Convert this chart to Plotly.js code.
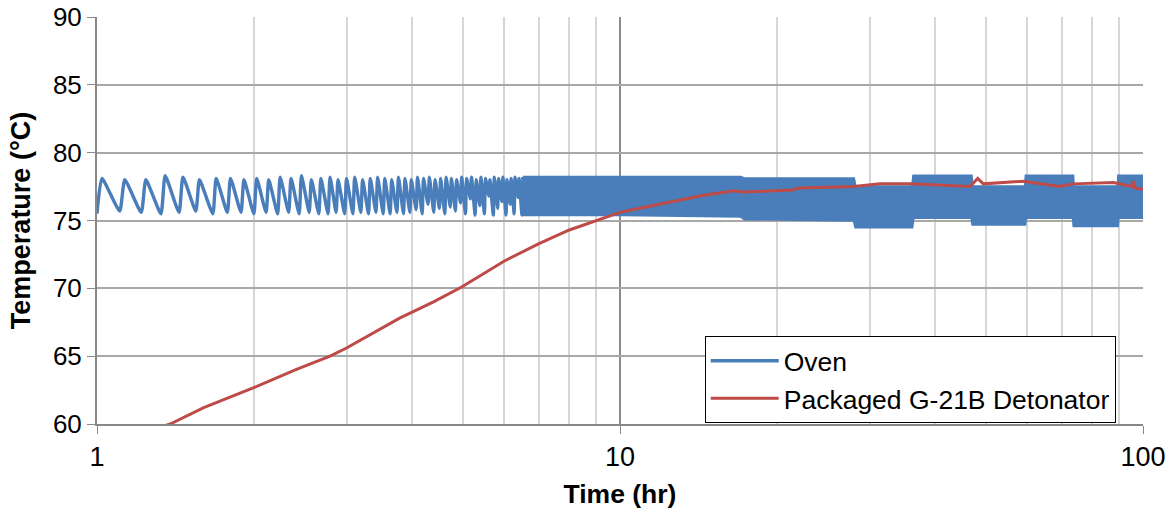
<!DOCTYPE html>
<html>
<head>
<meta charset="utf-8">
<script src="https://cdn.plot.ly/plotly-3.0.1.min.js"></script>
<style>
  html, body { margin: 0; padding: 0; background: #fff; }
  #chart { width: 1172px; height: 510px; }
</style>
</head>
<body>
<div id="chart"></div>
<script>
// ---- Data ----
// Oven: individual cycles in the sparse region (peaks and troughs)
const ovenStartT = 1.0;
const ovenStartV = 75.5;
const ovenPeakT = [1.022, 1.13, 1.24, 1.35, 1.46, 1.57, 1.69, 1.80, 1.91, 2.02, 2.13, 2.24, 2.35, 2.46, 2.57, 2.68, 2.79, 2.89, 3.00, 3.11, 3.22, 3.33, 3.44, 3.55, 3.66, 3.77, 3.88, 3.99, 4.10, 4.21, 4.32, 4.43, 4.54, 4.65, 4.76, 4.87, 4.98, 5.09, 5.20, 5.31, 5.42, 5.53, 5.64, 5.75, 5.86, 5.97, 6.08, 6.19, 6.30, 6.41, 6.52];
const ovenPeakV = [78.1, 78.0, 78.0, 78.3, 78.2, 78.0, 78.1, 78.1, 78.0, 78.1, 78.0, 78.2, 78.1, 78.3, 78.0, 78.1, 78.2, 78.0, 78.1, 78.2, 78.0, 78.1, 78.2, 78.1, 78.0, 78.2, 78.1, 78.0, 78.2, 78.1, 78.2, 78.0, 78.1, 78.2, 78.1, 78.0, 78.2, 78.1, 78.2, 78.0, 78.2, 78.1, 78.0, 78.2, 78.1, 78.2, 78.0, 78.1, 78.2, 78.1, 78.2];
const ovenTroughT = [1.105, 1.215, 1.325, 1.435, 1.545, 1.665, 1.775, 1.885, 1.995, 2.105, 2.215, 2.325, 2.435, 2.545, 2.655, 2.765, 2.865, 2.975, 3.085, 3.195, 3.305, 3.415, 3.525, 3.635, 3.745, 3.855, 3.965, 4.075, 4.185, 4.295, 4.405, 4.515, 4.625, 4.735, 4.845, 4.955, 5.065, 5.175, 5.285, 5.395, 5.505, 5.615, 5.725, 5.835, 5.945, 6.055, 6.165, 6.275, 6.385, 6.495];
const ovenTroughV = [75.7, 75.6, 75.5, 75.6, 75.7, 75.5, 75.6, 75.6, 75.5, 75.6, 75.5, 75.6, 75.5, 75.6, 75.5, 75.5, 75.6, 75.5, 75.5, 75.6, 75.5, 75.6, 75.5, 75.5, 75.6, 75.5, 75.6, 75.8, 75.5, 76.2, 75.6, 75.9, 75.5, 76.0, 75.7, 76.3, 75.5, 76.6, 75.4, 76.1, 75.5, 76.8, 75.4, 75.9, 76.4, 75.4, 76.2, 75.5, 76.7, 75.4];

// Oven: dense region, upper and lower envelope of the oscillation band
const bandT     = [6.52, 10.0, 17.0, 17.3, 28.0, 28.2, 36.2, 36.4, 47.0, 47.2, 59.5, 59.7, 73.5, 73.7, 89.5, 89.7, 100];
const bandUpper = [78.2, 78.2, 78.2, 78.1, 78.1, 77.5, 77.5, 78.3, 78.3, 77.5, 77.5, 78.3, 78.3, 77.5, 77.5, 78.3, 78.3];
const bandLower = [75.4, 75.4, 75.3, 75.1, 75.0, 74.5, 74.5, 75.2, 75.2, 74.7, 74.7, 75.2, 75.2, 74.6, 74.6, 75.2, 75.2];

// Packaged G-21B Detonator
const detT = [1.33, 1.38, 1.6, 2.0, 2.4, 2.79, 3.0, 3.4, 3.79, 4.4, 4.98, 6.0, 7.0, 8.0, 9.0, 10.0, 10.45, 12.3, 14.2, 16.5, 17.2, 21.4, 22.0, 28.0, 31.4, 35.9, 46.7, 48.3, 49.5, 59.0, 69.4, 73.5, 87.7, 95.2, 95.7, 96.5, 100];
const detV = [59.8, 60.0, 61.2, 62.7, 64.0, 65.0, 65.6, 66.8, 67.8, 69.0, 70.1, 72.0, 73.3, 74.3, 75.0, 75.6, 75.75, 76.3, 76.8, 77.2, 77.1, 77.25, 77.4, 77.5, 77.7, 77.7, 77.5, 78.1, 77.7, 77.9, 77.5, 77.7, 77.8, 77.5, 77.9, 77.4, 77.3];

const xTickVals = [1, 10, 100];
const xTickText = ['1', '10', '100'];
const xMinorVals = [2, 3, 4, 5, 6, 7, 8, 9, 20, 30, 40, 50, 60, 70, 80, 90];

// ---- Build the oven cycle polyline from the read peaks/troughs ----
const ovenX = [ovenStartT];
const ovenY = [ovenStartV];
for (let i = 0; i < ovenPeakT.length; i++) {
  ovenX.push(ovenPeakT[i]); ovenY.push(ovenPeakV[i]);
  if (i < ovenTroughT.length) { ovenX.push(ovenTroughT[i]); ovenY.push(ovenTroughV[i]); }
}

const BLUE = '#4a7ebb';
const RED = '#be4b48';
const FONT = 'Liberation Sans, Arial, sans-serif';

const traces = [
  { x: ovenX, y: ovenY, type: 'scatter', mode: 'lines', name: 'Oven',
    line: { color: BLUE, width: 3.4, shape: 'spline', smoothing: 0.5 }, hoverinfo: 'skip' },
  { x: bandT, y: bandLower, type: 'scatter', mode: 'lines', showlegend: false,
    line: { color: BLUE, width: 2.5 }, hoverinfo: 'skip' },
  { x: bandT, y: bandUpper, type: 'scatter', mode: 'lines', showlegend: false,
    fill: 'tonexty', fillcolor: BLUE,
    line: { color: BLUE, width: 2.5 }, hoverinfo: 'skip' },
  { x: detT, y: detV, type: 'scatter', mode: 'lines', name: 'Packaged G-21B Detonator',
    line: { color: RED, width: 3 }, hoverinfo: 'skip' }
];

const layout = {
  width: 1172, height: 510,
  margin: { l: 97, r: 29, t: 17, b: 86 },
  paper_bgcolor: '#fff', plot_bgcolor: '#fff',
  font: { family: FONT, color: '#000', size: 26 },
  showlegend: true,
  legend: {
    x: 0.581, y: 0.216, xanchor: 'left', yanchor: 'top',
    bgcolor: '#fff', bordercolor: '#000', borderwidth: 1,
    font: { family: FONT, size: 26.5, color: '#000' },
    itemwidth: 68,
    traceorder: 'normal'
  },
  xaxis: {
    type: 'log', range: [0, 2],
    tickmode: 'array', tickvals: xTickVals, ticktext: xTickText,
    ticks: 'outside', ticklen: 8, tickcolor: '#888', tickwidth: 1,
    tickfont: { family: FONT, size: 27, color: '#000' },
    showgrid: true, gridcolor: '#8c8c8c', gridwidth: 2,
    minor: { tickmode: 'array', tickvals: xMinorVals, showgrid: true, gridcolor: '#d6d6d6', gridwidth: 2, ticks: '' },
    showline: true, linecolor: '#888', linewidth: 2,
    zeroline: false,
    title: { text: '<b>Time (hr)</b>', font: { family: FONT, size: 26.5, color: '#000' }, standoff: 13 }
  },
  yaxis: {
    range: [60, 90], dtick: 5, tick0: 60,
    ticks: 'outside', ticklen: 8, tickcolor: '#888', tickwidth: 1,
    tickfont: { family: FONT, size: 26, color: '#000' },
    showgrid: true, gridcolor: '#a8a8a8', gridwidth: 2,
    showline: true, linecolor: '#888', linewidth: 2,
    zeroline: false,
    title: { text: '<b>Temperature (°C)</b>', font: { family: FONT, size: 27, color: '#000' }, standoff: 14 }
  }
};

Plotly.newPlot('chart', traces, layout, { displayModeBar: false, staticPlot: true });
</script>
</body>
</html>
